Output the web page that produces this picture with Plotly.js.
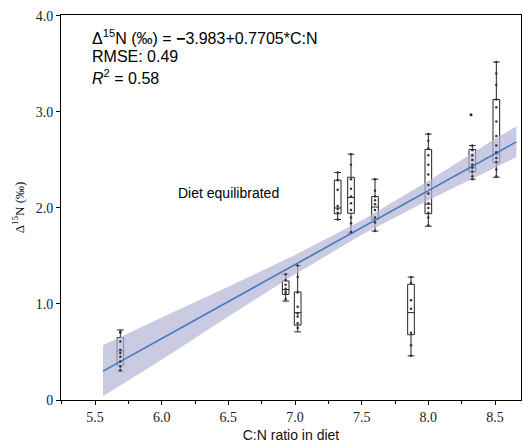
<!DOCTYPE html>
<html>
<head>
<meta charset="utf-8">
<script src="https://cdn.plot.ly/plotly-3.0.1.min.js"></script>
<style>html,body{margin:0;padding:0;background:#fff;}#chart{width:523px;height:443px;}</style>
</head>
<body>
<div id="chart"></div>
<script>
// Box positions (C:N ratio) and summary statistics (Δ15N, ‰)
const boxX      = [5.69, 6.93, 7.02, 7.32, 7.42, 7.60, 7.87, 8.00, 8.33, 8.51];
const boxLower  = [0.30, 1.03, 0.71, 1.88, 1.74, 1.76, 0.46, 1.81, 2.30, 2.32];
const boxQ1     = [0.36, 1.10, 0.78, 1.94, 1.945, 1.88, 0.68, 1.94, 2.375, 2.47];
const boxMedian = [0.51, 1.15, 0.91, 2.00, 2.11, 2.01, 0.91, 2.04, 2.42, 2.56];
const boxQ3     = [0.65, 1.24, 1.125, 2.29, 2.32, 2.12, 1.205, 2.61, 2.61, 3.13];
const boxUpper  = [0.73, 1.31, 1.40, 2.37, 2.56, 2.30, 1.28, 2.77, 2.65, 3.52];

// Individual observations drawn on each box
const pts1  = [0.71, 0.70, 0.61, 0.52, 0.49, 0.45, 0.40, 0.35, 0.31];
const pts2  = [1.31, 1.25, 1.20, 1.16, 1.13, 1.11, 1.05];
const pts3  = [1.40, 1.28, 1.12, 0.97, 0.90, 0.87, 0.80, 0.75];
const pts4  = [2.37, 2.29, 2.19, 2.02, 1.99, 1.95, 1.88];
const pts5  = [2.56, 2.45, 2.30, 2.20, 2.12, 2.05, 1.98, 1.90, 1.84, 1.75];
const pts6  = [2.30, 2.18, 2.12, 2.08, 2.04, 1.98, 1.90, 1.85, 1.76];
const pts7  = [1.28, 1.22, 1.04, 0.95, 0.70, 0.57, 0.46];
const pts8  = [2.77, 2.70, 2.62, 2.55, 2.45, 2.35, 2.24, 2.15, 2.05, 2.00, 1.95, 1.90, 1.82];
const pts9  = [2.65, 2.60, 2.55, 2.50, 2.45, 2.42, 2.38, 2.33, 2.30];
const pts10 = [3.52, 3.40, 3.28, 3.13, 3.05, 2.90, 2.75, 2.65, 2.58, 2.52, 2.48, 2.40, 2.33];
const outlierX = [8.32];
const outlierY = [2.97];

// Regression line and its confidence band
const fitX = [5.56, 8.66];
const fitY = [0.301, 2.689];
const bandX     = [5.56, 6.0, 6.5, 7.0, 7.5, 8.0, 8.5, 8.66];
const bandLower = [0.04, 0.42, 0.87, 1.31, 1.72, 2.08, 2.42, 2.53];
const bandUpper = [0.57, 0.86, 1.18, 1.51, 1.87, 2.28, 2.72, 2.85];

const xTicks = [5.5, 6.0, 6.5, 7.0, 7.5, 8.0, 8.5];
const yTicks = [0, 1, 2, 3, 4];
const yTickText = ['0', '1.0', '2.0', '3.0', '4.0'];

const allPts = [pts1, pts2, pts3, pts4, pts5, pts6, pts7, pts8, pts9, pts10];
const ptX = [], ptY = [];
allPts.forEach((arr, i) => arr.forEach(v => { ptX.push(boxX[i]); ptY.push(v); }));

const traces = [
  {x: bandX, y: bandLower, mode: 'lines', line: {width: 0}, hoverinfo: 'skip', showlegend: false},
  {x: bandX, y: bandUpper, mode: 'lines', line: {width: 0}, fill: 'tonexty',
   fillcolor: 'rgba(180,180,214,0.7)', hoverinfo: 'skip', showlegend: false},
  {x: fitX, y: fitY, mode: 'lines', line: {color: 'rgb(70,120,190)', width: 1.6}, showlegend: false},
  {type: 'box', x: boxX, q1: boxQ1, median: boxMedian, q3: boxQ3,
   lowerfence: boxLower, upperfence: boxUpper, boxpoints: false, width: 0.05,
   whiskerwidth: 1, fillcolor: 'rgba(0,0,0,0)', line: {color: '#222', width: 1}, showlegend: false},
  {x: ptX, y: ptY, mode: 'markers', marker: {size: 2.5, color: '#333'}, showlegend: false},
  {x: outlierX, y: outlierY, mode: 'markers', marker: {size: 3, color: '#222'}, showlegend: false}
];

const serif = 'Liberation Serif, Times New Roman, serif';
const sans = 'Liberation Sans, Arial, sans-serif';

const layout = {
  width: 523, height: 443,
  margin: {l: 61, r: 2, t: 15, b: 43},
  paper_bgcolor: '#fff', plot_bgcolor: '#fff',
  showlegend: false,
  xaxis: {
    range: [5.245, 8.695], tickvals: xTicks, tickformat: '.1f',
    ticks: 'outside', ticklen: 4, tickcolor: '#000', tickwidth: 1,
    minor: {dtick: 0.25, tick0: 5.5, ticks: 'outside', ticklen: 3, tickcolor: '#000'},
    showgrid: false, zeroline: false, showline: true, linecolor: '#000', linewidth: 1, mirror: true,
    tickfont: {family: serif, size: 14, color: '#222'},
    title: {text: 'C:N ratio in diet', font: {family: sans, size: 14, color: '#111'}, standoff: 6}
  },
  yaxis: {
    range: [0, 4.01], tickvals: yTicks, ticktext: yTickText,
    ticks: 'outside', ticklen: 4, tickcolor: '#000', tickwidth: 1,
    showgrid: false, zeroline: false, showline: true, linecolor: '#000', linewidth: 1, mirror: true,
    tickfont: {family: serif, size: 14, color: '#222'},
    title: {text: 'Δ<sup>15</sup>N (‰)', font: {family: serif, size: 13, color: '#111'}, standoff: 8}
  },
  annotations: [
    {xref: 'paper', yref: 'paper', x: 0.062, y: 0.943, xanchor: 'left', yanchor: 'middle', showarrow: false, align: 'left',
     text: 'Δ<sup>15</sup>N (‰) = <b>−</b>3.983+0.7705*C:N', font: {family: sans, size: 16, color: '#000'}},
    {xref: 'paper', yref: 'paper', x: 0.062, y: 0.891, xanchor: 'left', yanchor: 'middle', showarrow: false, align: 'left',
     text: 'RMSE: 0.49', font: {family: sans, size: 16, color: '#000'}},
    {xref: 'paper', yref: 'paper', x: 0.062, y: 0.839, xanchor: 'left', yanchor: 'middle', showarrow: false, align: 'left',
     text: '<i>R</i><sup>2</sup> = 0.58', font: {family: sans, size: 16, color: '#000'}},
    {xref: 'x', yref: 'y', x: 6.5, y: 2.16, xanchor: 'center', yanchor: 'middle', showarrow: false,
     text: 'Diet equilibrated', font: {family: sans, size: 14, color: '#000'}}
  ]
};

Plotly.newPlot('chart', traces, layout, {displayModeBar: false, staticPlot: true});
</script>
</body>
</html>
